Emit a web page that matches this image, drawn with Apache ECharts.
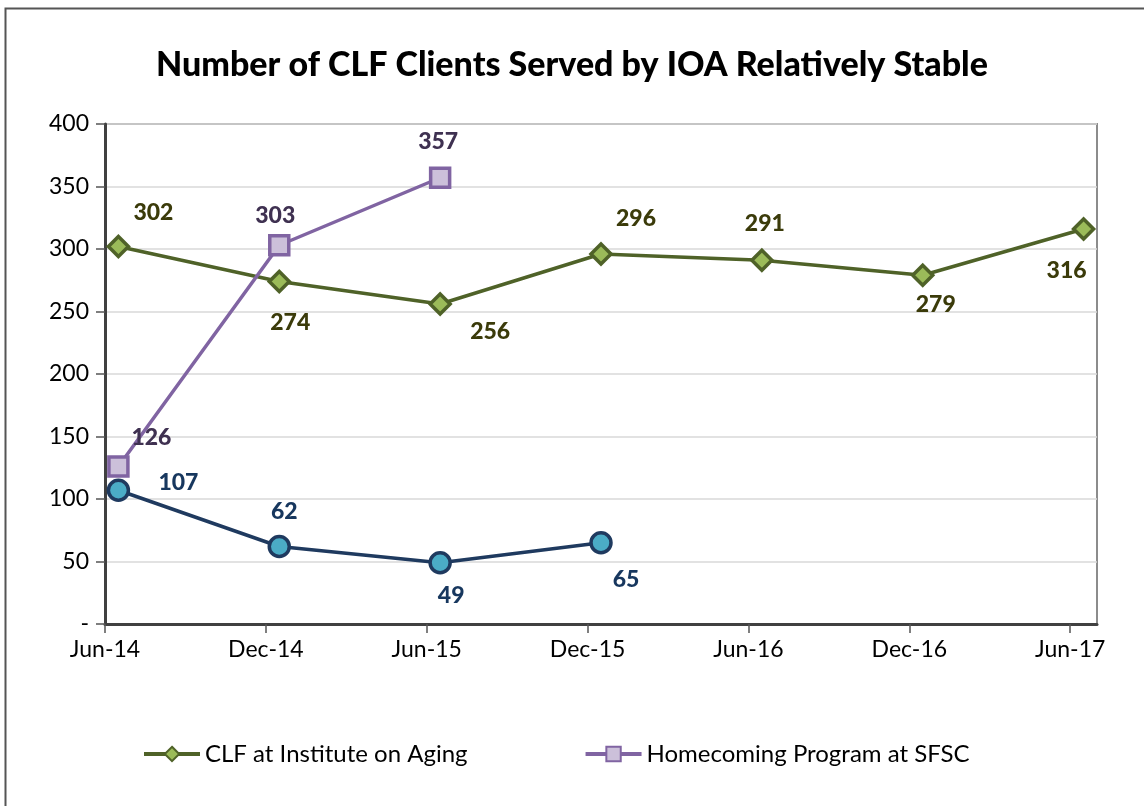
<!DOCTYPE html>
<html>
<head>
<meta charset="utf-8">
<script src="https://cdn.jsdelivr.net/npm/echarts@6/dist/echarts.min.js"></script>
<style>
  html, body { margin: 0; padding: 0; background: #fff; }
  #main { width: 1144px; height: 806px; }
</style>
</head>
<body>
<div id="main"></div>
<script>
// data
var tickLabels = ['Jun-14', 'Dec-14', 'Jun-15', 'Dec-15', 'Jun-16', 'Dec-16', 'Jun-17'];
var clfDates = ['2014-06', '2014-12', '2015-06', '2015-12', '2016-06', '2016-12', '2017-06'];
var clfValues = [302, 274, 256, 296, 291, 279, 316];
var homeDates = ['2014-06', '2014-12', '2015-06'];
var homeValues = [126, 303, 357];
var otherDates = ['2014-06', '2014-12', '2015-06', '2015-12'];
var otherValues = [107, 62, 49, 65];

// label placement (style only)
var clfOffsets = [[35, -34], [11, 41], [50, 28], [35, -35], [3, -37], [13, 29], [-17, 42]];
var homeOffsets = [[33, -29], [-4, -30], [-2, -36]];
var otherOffsets = [[60, -8], [5, -35], [11, 33], [25, 37]];

// months counted from Jun-14, point sits in the middle of its month
function monthPos(s) {
    var p = s.split('-');
    return (parseInt(p[0]) - 2014) * 12 + (parseInt(p[1]) - 6) + 0.5;
}

function buildData(dates, values, offsets) {
    var out = [];
    for (var i = 0; i < dates.length; i++) {
        out.push({
            value: [monthPos(dates[i]), values[i]],
            label: { offset: offsets[i] }
        });
    }
    return out;
}

var font = 'Lato, "DejaVu Sans", sans-serif';

function lineSeries(name, data, lineColor, fill, symbol, size, labelColor) {
    return {
        name: name,
        type: 'line',
        data: data,
        symbol: symbol,
        symbolSize: size,
        lineStyle: { color: lineColor, width: 3.5 },
        itemStyle: { color: fill, borderColor: lineColor, borderWidth: 3.5 },
        label: {
            show: true,
            position: 'inside',
            formatter: function (p) { return p.value[1]; },
            color: labelColor,
            fontFamily: font,
            fontWeight: 900,
            fontSize: 23
        },
        emphasis: { disabled: true },
        animation: false
    };
}

var myChart = echarts.init(document.getElementById('main'));

var option = {
    backgroundColor: '#fff',
    graphic: [{
        type: 'rect',
        shape: { x: 5.5, y: 8.5, width: 1300, height: 1000 },
        style: { fill: 'none', stroke: '#555', lineWidth: 2 },
        silent: true
    }],
    title: {
        text: 'Number of CLF Clients Served by IOA Relatively Stable',
        left: 'center',
        top: 43,
        textStyle: {
            fontFamily: font,
            fontWeight: 900,
            fontSize: 34,
            color: '#000'
        }
    },
    legend: {
        data: ['CLF at Institute on Aging', 'Homecoming Program at SFSC'],
        left: 137,
        top: 737,
        itemWidth: 56,
        itemHeight: 18,
        itemGap: 116,
        lineStyle: { width: 4 },
        textStyle: { fontFamily: font, fontSize: 24, color: '#000' }
    },
    grid: {
        left: 105,
        right: 47,
        top: 124,
        bottom: 182,
        show: true,
        borderColor: '#8c8c8c',
        borderWidth: 2,
        containLabel: false
    },
    xAxis: {
        type: 'value',
        min: 0,
        max: 37,
        interval: 6,
        axisLine: { show: true, onZero: false, lineStyle: { color: '#404040', width: 3 } },
        axisTick: { show: true, length: 9, lineStyle: { color: '#555', width: 1.5 } },
        splitLine: { show: false },
        axisLabel: {
            margin: 14,
            fontFamily: font,
            fontSize: 23,
            color: '#000',
            showMaxLabel: false,
            formatter: function (v) {
                return v % 6 === 0 ? tickLabels[v / 6] : '';
            }
        }
    },
    yAxis: {
        type: 'value',
        min: 0,
        max: 400,
        interval: 50,
        axisLine: { show: true, lineStyle: { color: '#404040', width: 3 } },
        axisTick: { show: true, length: 9, lineStyle: { color: '#555', width: 1.5 } },
        splitLine: { lineStyle: { color: '#d9d9d9', width: 1.5 } },
        axisLabel: {
            margin: 16,
            fontFamily: font,
            fontSize: 23,
            color: '#000',
            formatter: function (v) { return v === 0 ? '-' : v; }
        }
    },
    series: [
        lineSeries('CLF at Institute on Aging', buildData(clfDates, clfValues, clfOffsets),
            '#4f6228', '#9bbb59', 'diamond', 20, '#3b3b0a'),
        lineSeries('Homecoming Program at SFSC', buildData(homeDates, homeValues, homeOffsets),
            '#8064a2', '#ccc0da', 'rect', 19, '#3f3151'),
        lineSeries('Other', buildData(otherDates, otherValues, otherOffsets),
            '#1f3a5f', '#4bacc6', 'circle', 20, '#17375e')
    ]
};

myChart.setOption(option);

window.addEventListener('resize', function () {
    myChart.resize();
});
</script>
</body>
</html>
